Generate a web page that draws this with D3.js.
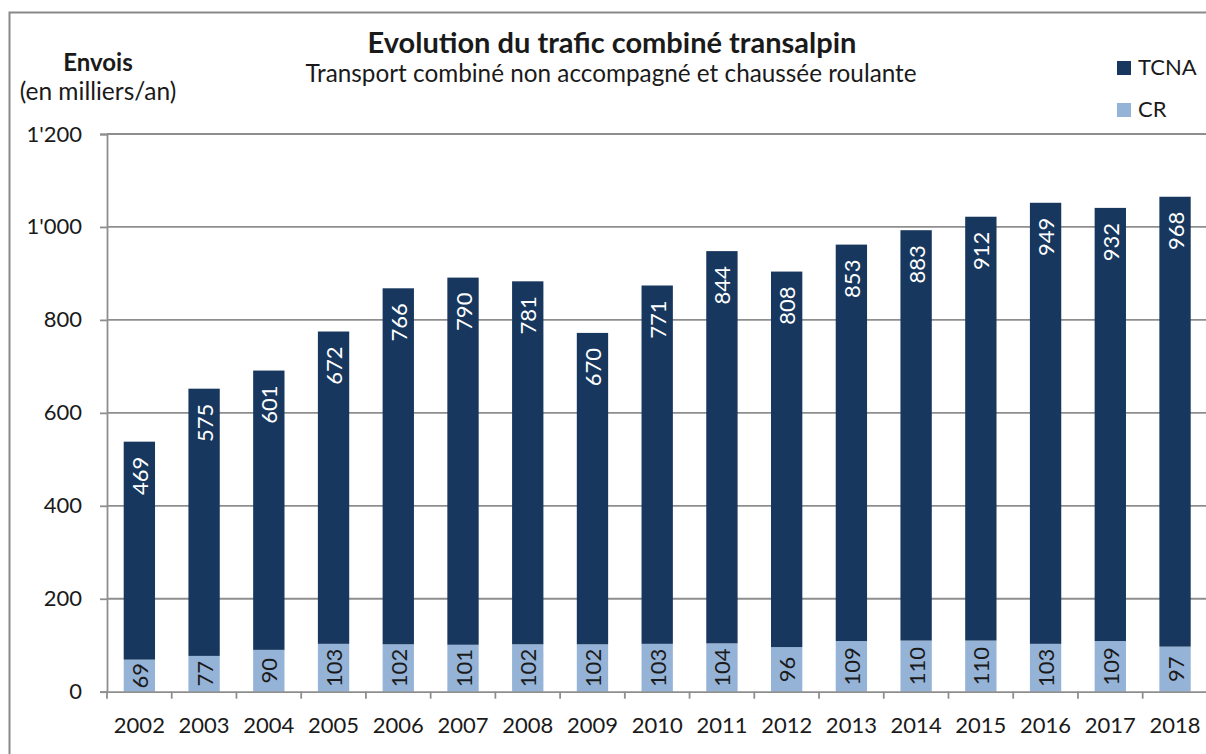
<!DOCTYPE html>
<html>
<head>
<meta charset="utf-8">
<script src="https://cdn.jsdelivr.net/npm/d3@7"></script>
<style>
	body { margin: 0; background: #fff; }
	svg text { font-family: Lato, "Noto Sans", sans-serif; }
</style>
</head>
<body>
<div class="trafficChart"></div>
<script>
var years = ["2002","2003","2004","2005","2006","2007","2008","2009","2010","2011","2012","2013","2014","2015","2016","2017","2018"];
var crValues = [69,77,90,103,102,101,102,102,103,104,96,109,110,110,103,109,97];
var tcnaValues = [469,575,601,672,766,790,781,670,771,844,808,853,883,912,949,932,968];
var yTicks = [0,200,400,600,800,1000,1200];
var seriesNames = ["TCNA","CR"];

drawChart();
function drawChart() {
	var width = 1206, height = 754;
	var colors = {TCNA: "#17375e", CR: "#95b3d7"};
	var gridColor = "#8e8e8e";

	var svg = d3.select(".trafficChart").append("svg")
		.attr("width", width)
		.attr("height", height);

	//outer frame of the chart (cut at right and bottom)
	svg.append("rect")
		.attr("x", 9.5).attr("y", 12.5)
		.attr("width", width + 20).attr("height", height + 20)
		.attr("fill", "none")
		.attr("stroke", "#898989")
		.attr("stroke-width", 2);

	var x = d3.scaleBand().domain(years).range([107, 1207.4]).paddingInner(0.516).paddingOuter(0.258);
	var y = d3.scaleLinear().domain([0, 1200]).range([691.7, 134]);

	//table for the stack
	var rows = years.map(function (yr, i) {return {year: yr, CR: crValues[i], TCNA: tcnaValues[i]}});
	var stacked = d3.stack().keys(["CR","TCNA"])(rows);

	//gridlines
	svg.append("g").selectAll("line")
		.data(yTicks.slice(1))
		.enter().append("line")
		.attr("x1", 107).attr("x2", width)
		.attr("y1", function (d) {return y(d)})
		.attr("y2", function (d) {return y(d)})
		.attr("stroke", gridColor)
		.attr("stroke-width", 1.8);

	//bars
	stacked.forEach(function (layer) {
		svg.append("g").attr("class", layer.key)
			.selectAll("rect")
			.data(layer)
			.enter().append("rect")
			.attr("x", function (d) {return x(d.data.year)})
			.attr("width", x.bandwidth())
			.attr("y", function (d) {return y(d[1])})
			.attr("height", function (d) {return y(d[0]) - y(d[1])})
			.attr("fill", colors[layer.key]);
	});

	//value labels, rotated
	stacked.forEach(function (layer) {
		svg.append("g")
			.selectAll("text")
			.data(layer)
			.enter().append("text")
			.attr("transform", function (d) {
				var cx = x(d.data.year) + x.bandwidth() / 2;
				var cy = layer.key == "CR" ? (y(d[0]) + y(d[1])) / 2 : y(d[1]) + 15;
				return "translate(" + cx + "," + cy + ") rotate(-90)";
			})
			.attr("text-anchor", layer.key == "CR" ? "middle" : "end")
			.attr("dominant-baseline", "central")
			.attr("font-size", 22)
			.attr("fill", layer.key == "CR" ? "#1a1a1a" : "#ffffff")
			.text(function (d) {return d.data[layer.key]});
	});

	//y axis
	var yAxis = d3.axisLeft(y).tickValues(yTicks).tickSize(7).tickPadding(18)
		.tickFormat(function (d) {return d3.format(",")(d).replace(",", "'")});
	var yg = svg.append("g").attr("transform", "translate(107,0)").call(yAxis);
	yg.select(".domain").attr("stroke", gridColor).attr("stroke-width", 1.8);
	yg.selectAll(".tick line").attr("stroke", gridColor).attr("stroke-width", 1.8);
	yg.selectAll(".tick text").attr("font-size", 22).attr("fill", "#1a1a1a").attr("font-family", "Lato");

	//x axis with ticks between categories
	var xAxis = d3.axisBottom(x).tickSize(0).tickPadding(26);
	var xg = svg.append("g").attr("transform", "translate(0,691.7)").call(xAxis);
	xg.select(".domain").attr("stroke", gridColor).attr("stroke-width", 1.8);
	xg.selectAll(".tick text").attr("font-size", 22).attr("fill", "#1a1a1a").attr("font-family", "Lato");
	xg.append("g").selectAll("line")
		.data(years)
		.enter().append("line")
		.attr("x1", function (d) {return x(d) - x.step() * 0.258})
		.attr("x2", function (d) {return x(d) - x.step() * 0.258})
		.attr("y1", 0).attr("y2", 7)
		.attr("stroke", gridColor)
		.attr("stroke-width", 1.8);

	//titles
	svg.append("text").attr("x", 612).attr("y", 53)
		.attr("text-anchor", "middle").attr("font-size", 29).attr("font-weight", "bold").attr("fill", "#1a1a1a")
		.text("Evolution du trafic combiné transalpin");
	svg.append("text").attr("x", 611).attr("y", 82)
		.attr("text-anchor", "middle").attr("font-size", 24.3).attr("fill", "#1a1a1a")
		.text("Transport combiné non accompagné et chaussée roulante");
	svg.append("text").attr("x", 98).attr("y", 71)
		.attr("text-anchor", "middle").attr("font-size", 24).attr("font-weight", "bold").attr("fill", "#1a1a1a")
		.text("Envois");
	svg.append("text").attr("x", 98).attr("y", 100)
		.attr("text-anchor", "middle").attr("font-size", 24.5).attr("fill", "#1a1a1a")
		.text("(en milliers/an)");

	//legend
	var legend = svg.append("g").selectAll("g")
		.data(seriesNames)
		.enter().append("g")
		.attr("transform", function (d, i) {return "translate(1117," + (61 + i * 42) + ")"});
	legend.append("rect").attr("width", 14).attr("height", 14)
		.attr("fill", function (d) {return colors[d]});
	legend.append("text").attr("x", 21).attr("y", 14)
		.attr("font-size", 22).attr("fill", "#1a1a1a")
		.text(function (d) {return d});
}
</script>
</body>
</html>
